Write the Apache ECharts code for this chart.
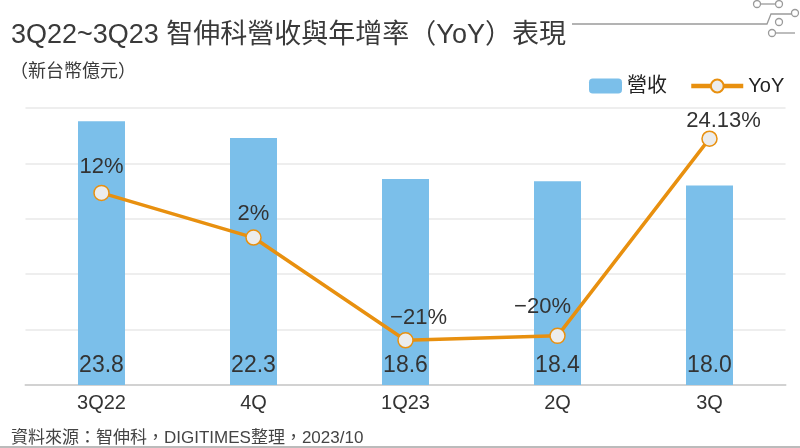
<!DOCTYPE html>
<html>
<head>
<meta charset="utf-8">
<script src="https://cdn.jsdelivr.net/npm/echarts@6/dist/echarts.min.js"></script>
<style>
  html, body { margin: 0; padding: 0; background: #fff; }
  #chart { width: 800px; height: 448px; }
</style>
</head>
<body>
<div id="chart"></div>
<script>
const quarters = ['3Q22', '4Q', '1Q23', '2Q', '3Q']
const revenue = [23.8, 22.3, 18.6, 18.4, 18.0]
const yoy = [12, 2, -21, -20, 24.13]
const yoyLabels = ['12%', '2%', '−21%', '−20%', '24.13%']

const font = '"Liberation Sans", "Noto Sans CJK TC", sans-serif'
const orange = '#e8900f'
const grey = '#9a9a9a'

// nudges for the line labels so they sit like the original
const labelOffsets = [[0, -2], [0, 1], [13, 2], [-15, -5], [14, 6]]

const myChart = echarts.init(document.getElementById('chart'))

// little circuit decoration top right
const deco = [
    { type: 'polyline', shape: { points: [[572, 24], [767, 24], [771, 14], [792, 14]] } },
    { type: 'line', shape: { x1: 760, y1: 4, x2: 776, y2: 4 } },
    { type: 'line', shape: { x1: 775, y1: 33, x2: 795, y2: 33 } },
    { type: 'circle', shape: { cx: 757, cy: 4, r: 3.5 } },
    { type: 'circle', shape: { cx: 779, cy: 4, r: 3.5 } },
    { type: 'circle', shape: { cx: 795, cy: 13, r: 3.5 } },
    { type: 'circle', shape: { cx: 779, cy: 22, r: 3.5 } },
    { type: 'circle', shape: { cx: 772, cy: 33, r: 3.5 } }
].map(el => Object.assign(el, { style: { stroke: grey, lineWidth: 1.3, fill: '#fff' } }))

const option = {
    textStyle: { fontFamily: font },
    title: [
        {
            text: '3Q22~3Q23 智伸科營收與年增率（YoY）表現',
            left: 6,
            top: 17,
            textStyle: { fontSize: 27, fontWeight: 'normal', color: '#3a3a3a', fontFamily: font }
        },
        {
            text: '（新台幣億元）',
            left: 5,
            top: 58,
            textStyle: { fontSize: 18, fontWeight: 'normal', color: '#3a3a3a', fontFamily: font }
        },
        {
            text: '資料來源：智伸科，DIGITIMES整理，2023/10',
            left: 6,
            top: 425,
            textStyle: { fontSize: 17, fontWeight: 'normal', color: '#444', fontFamily: font }
        }
    ],
    legend: [
        {
            data: ['營收'],
            left: 584,
            top: 71,
            itemWidth: 33,
            itemHeight: 15,
            itemGap: 8,
            textStyle: { fontSize: 20, color: '#222' }
        },
        {
            data: ['YoY'],
            left: 684,
            top: 71,
            itemWidth: 52,
            itemHeight: 16,
            lineStyle: { width: 4.5 },
            textStyle: { fontSize: 20, color: '#222' }
        }
    ],
    grid: { left: 25.5, right: 14.5, top: 108, bottom: 63 },
    xAxis: {
        type: 'category',
        data: quarters,
        axisTick: { show: false },
        axisLine: { lineStyle: { color: '#d2d2d2', width: 2 } },
        axisLabel: { fontSize: 20, color: '#333', margin: 8 }
    },
    yAxis: [
        {
            type: 'value',
            min: 0,
            max: 25,
            interval: 5,
            axisLabel: { show: false },
            axisLine: { show: false },
            axisTick: { show: false },
            splitLine: { lineStyle: { color: '#e8e8e8', width: 1.5 } }
        },
        {
            type: 'value',
            min: -31,
            max: 31,
            show: false,
            splitLine: { show: false }
        }
    ],
    series: [
        {
            name: '營收',
            type: 'bar',
            data: revenue,
            barWidth: 47,
            itemStyle: { color: '#7bbfea' },
            label: {
                show: true,
                position: 'insideBottom',
                distance: 8,
                fontSize: 23,
                color: '#333',
                formatter: p => p.value.toFixed(1)
            }
        },
        {
            name: 'YoY',
            type: 'line',
            yAxisIndex: 1,
            data: yoy.map((v, i) => ({
                value: v,
                label: { offset: labelOffsets[i] }
            })),
            symbol: 'circle',
            symbolSize: 15,
            lineStyle: { color: orange, width: 3.5 },
            itemStyle: { color: '#ececec', borderColor: orange, borderWidth: 1.5 },
            label: {
                show: true,
                position: 'top',
                distance: 5,
                fontSize: 22,
                color: '#333',
                formatter: p => yoyLabels[p.dataIndex]
            },
            z: 5
        }
    ],
    graphic: deco.concat([
        {
            type: 'line',
            shape: { x1: 0, y1: 447, x2: 800, y2: 447 },
            style: { stroke: '#bbb', lineWidth: 2 }
        }
    ]),
    animation: false
}

myChart.setOption(option)
</script>
</body>
</html>
